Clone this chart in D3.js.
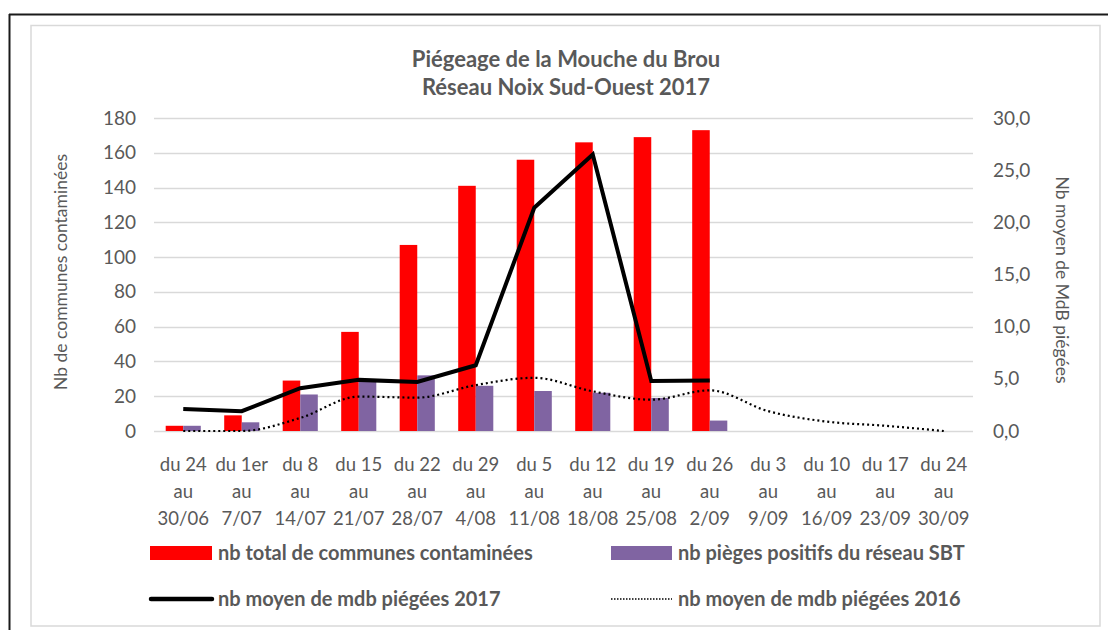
<!DOCTYPE html>
<html>
<head>
<meta charset="utf-8">
<script src="https://cdn.jsdelivr.net/npm/d3@7"></script>
<style>
  html, body { margin: 0; padding: 0; background: #fff; }
  svg { display: block; font-family: Lato, "Open Sans", sans-serif; }
</style>
</head>
<body>
<svg id="chart" width="1108" height="630"></svg>
<script>
// ---- Data ----
const categoriesLine1 = ["du 24", "du 1er", "du 8", "du 15", "du 22", "du 29", "du 5", "du 12", "du 19", "du 26", "du 3", "du 10", "du 17", "du 24"];
const categoriesLine2 = ["au", "au", "au", "au", "au", "au", "au", "au", "au", "au", "au", "au", "au", "au"];
const categoriesLine3 = ["30/06", "7/07", "14/07", "21/07", "28/07", "4/08", "11/08", "18/08", "25/08", "2/09", "9/09", "16/09", "23/09", "30/09"];
const communesContaminees = [3, 9, 29, 57, 107, 141, 156, 166, 169, 173, null, null, null, null];
const piegesPositifs = [3, 5, 21, 29, 32, 26, 23, 22, 19, 6, null, null, null, null];
const mdb2017 = [2.1, 1.9, 4.1, 4.9, 4.7, 6.3, 21.4, 26.5, 4.8, 4.85, null, null, null, null];
const mdb2016 = [0.0, 0.0, 1.25, 3.3, 3.2, 4.4, 5.1, 3.8, 3.0, 3.9, 1.9, 0.9, 0.5, 0.0];
const leftTicks = [0, 20, 40, 60, 80, 100, 120, 140, 160, 180];
const rightTicks = [0, 5, 10, 15, 20, 25, 30];
const titleLines = ["Piégeage de la Mouche du Brou", "Réseau Noix Sud-Ouest 2017"];
const legendLabels = ["nb total de communes contaminées", "nb pièges positifs du réseau SBT", "nb moyen de mdb piégées 2017", "nb moyen de mdb piégées 2016"];

// ---- Layout ----
const svg = d3.select("#chart");
const plot = { left: 154, right: 973, top: 118, bottom: 431 };
const textColor = "#595959";
const gridColor = "#d9d9d9";
const red = "#ff0000";
const purple = "#8064a2";

// frames
svg.append("line").attr("x1", 9).attr("x2", 1108).attr("y1", 14.5).attr("y2", 14.5)
  .attr("stroke", "#1a1a1a").attr("stroke-width", 2);
svg.append("line").attr("x1", 9.5).attr("x2", 9.5).attr("y1", 14).attr("y2", 630)
  .attr("stroke", "#1a1a1a").attr("stroke-width", 2);
svg.append("rect").attr("x", 31).attr("y", 25.5).attr("width", 1069).attr("height", 600.5)
  .attr("fill", "none").attr("stroke", gridColor).attr("stroke-width", 1.5);

const idx = d3.range(categoriesLine1.length);
const x = d3.scaleBand().domain(idx).range([plot.left, plot.right]).padding(0);
const yL = d3.scaleLinear().domain([0, 180]).range([plot.bottom, plot.top]);
const yR = d3.scaleLinear().domain([0, 30]).range([plot.bottom, plot.top]);
const barW = x.bandwidth() * 0.3;
const cx = i => x(i) + x.bandwidth() / 2;

// gridlines
svg.append("g").selectAll("line").data(leftTicks).join("line")
  .attr("x1", plot.left).attr("x2", plot.right)
  .attr("y1", d => Math.round(yL(d)) + 0.5).attr("y2", d => Math.round(yL(d)) + 0.5)
  .attr("stroke", gridColor).attr("stroke-width", 1.3);

// left axis labels
const axL = svg.append("g").attr("transform", `translate(${plot.left - 18},0)`)
  .call(d3.axisLeft(yL).tickValues(leftTicks).tickSize(0).tickPadding(0).tickFormat(d3.format("d")));
axL.select(".domain").remove();
axL.selectAll("text").attr("fill", textColor).style("font-size", "19px").style("font-family", "Lato, sans-serif");

// right axis labels
const axR = svg.append("g").attr("transform", `translate(${plot.right + 20},0)`)
  .call(d3.axisRight(yR).tickValues(rightTicks).tickSize(0).tickPadding(0).tickFormat(d => d3.format(".1f")(d).replace(".", ",")));
axR.select(".domain").remove();
axR.selectAll("text").attr("fill", textColor).style("font-size", "19px").style("font-family", "Lato, sans-serif");

// bars
svg.append("g").selectAll("rect").data(idx.filter(i => communesContaminees[i] != null)).join("rect")
  .attr("x", i => cx(i) - barW).attr("width", barW)
  .attr("y", i => yL(communesContaminees[i])).attr("height", i => yL(0) - yL(communesContaminees[i]))
  .attr("fill", red);
svg.append("g").selectAll("rect").data(idx.filter(i => piegesPositifs[i] != null)).join("rect")
  .attr("x", i => cx(i)).attr("width", barW)
  .attr("y", i => yL(piegesPositifs[i])).attr("height", i => yL(0) - yL(piegesPositifs[i]))
  .attr("fill", purple);

// lines
const line2016 = d3.line().defined(i => mdb2016[i] != null).x(cx).y(i => yR(mdb2016[i])).curve(d3.curveMonotoneX);
svg.append("path").datum(idx).attr("d", line2016).attr("fill", "none")
  .attr("stroke", "#000").attr("stroke-width", 2.2).attr("stroke-dasharray", "2,3");
const line2017 = d3.line().defined(i => mdb2017[i] != null).x(cx).y(i => yR(mdb2017[i]));
svg.append("path").datum(idx).attr("d", line2017).attr("fill", "none")
  .attr("stroke", "#000").attr("stroke-width", 4).attr("stroke-linejoin", "miter");

// x labels
const xl = svg.append("g").selectAll("text").data(idx).join("text")
  .attr("text-anchor", "middle").attr("fill", textColor).style("font-size", "18.5px");
xl.append("tspan").attr("x", cx).attr("y", 471).text(i => categoriesLine1[i]);
xl.append("tspan").attr("x", cx).attr("y", 498).text(i => categoriesLine2[i]);
xl.append("tspan").attr("x", cx).attr("y", 525).text(i => categoriesLine3[i]);

// axis titles
svg.append("text").attr("transform", "translate(67,272) rotate(-90)")
  .attr("text-anchor", "middle").attr("fill", textColor).style("font-size", "17.5px")
  .text("Nb de communes contaminées");
svg.append("text").attr("transform", "translate(1056,280) rotate(90)")
  .attr("text-anchor", "middle").attr("fill", textColor).style("font-size", "17.5px")
  .text("Nb moyen de MdB piégées");

// title
svg.append("text").attr("x", 566).attr("y", 67).attr("text-anchor", "middle")
  .attr("fill", textColor).style("font-size", "22px").style("font-weight", "bold").text(titleLines[0]);
svg.append("text").attr("x", 566).attr("y", 95).attr("text-anchor", "middle")
  .attr("fill", textColor).style("font-size", "22px").style("font-weight", "bold").text(titleLines[1]);

// legend
const lg = svg.append("g");
lg.append("rect").attr("x", 150).attr("y", 546).attr("width", 62).attr("height", 14).attr("fill", red);
lg.append("rect").attr("x", 611).attr("y", 546).attr("width", 61).attr("height", 14).attr("fill", purple);
lg.append("line").attr("x1", 151).attr("x2", 212).attr("y1", 599).attr("y2", 599)
  .attr("stroke", "#000").attr("stroke-width", 4.5).attr("stroke-linecap", "round");
lg.append("line").attr("x1", 611).attr("x2", 672).attr("y1", 599).attr("y2", 599)
  .attr("stroke", "#000").attr("stroke-width", 1.5).attr("stroke-dasharray", "1.5,1.5");
const legPos = [[218, 560], [678, 560], [218, 606], [678, 606]];
lg.selectAll("text.leg").data(legendLabels).join("text").attr("class", "leg")
  .attr("x", (d, i) => legPos[i][0]).attr("y", (d, i) => legPos[i][1])
  .attr("fill", textColor).style("font-size", "20px").style("font-weight", "bold")
  .text(d => d);
</script>
</body>
</html>
